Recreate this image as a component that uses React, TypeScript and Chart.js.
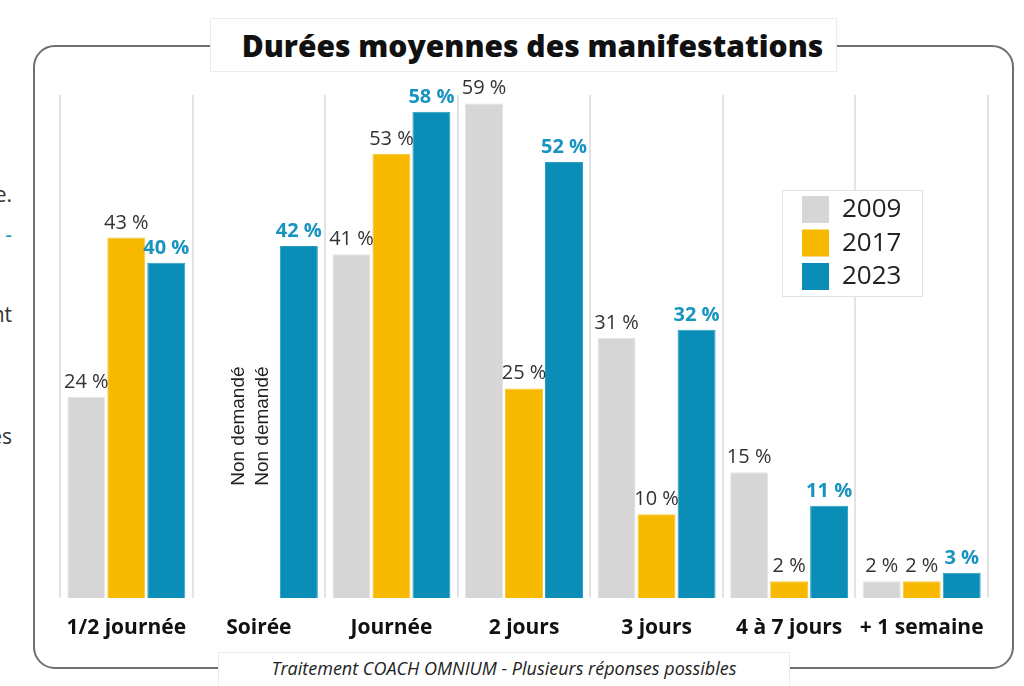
import React, { useEffect, useRef } from "react";
import { Chart, registerables } from "chart.js";

Chart.register(...registerables);

const categories = ["1/2 journée", "Soirée", "Journée", "2 jours", "3 jours", "4 à 7 jours", "+ 1 semaine"];
const series2009 = [24, null, 41, 59, 31, 15, 2];
const series2017 = [43, null, 53, 25, 10, 2, 2];
const series2023 = [40, 42, 58, 52, 32, 11, 3];
const seriesNames = ["2009", "2017", "2023"];
const notAskedText = "Non demandé";
const titleText = "Durées moyennes des manifestations";
const footerText = "Traitement COACH OMNIUM - Plusieurs réponses possibles";

const COLORS = ["#d6d6d6", "#f6b900", "#0a8db6"];
const BORDERS = ["#e4e4e4", "#f8c630", "#2a9cc0"];

const valueLabels = {
  id: "valueLabels",
  afterDatasetsDraw(chart: any) {
    const ctx = chart.ctx;
    ctx.save();
    chart.data.datasets.forEach((ds: any, di: number) => {
      const meta = chart.getDatasetMeta(di);
      meta.data.forEach((bar: any, i: number) => {
        const v = ds.data[i];
        if (v === null || v === undefined) return;
        const bold = di === 2;
        ctx.font = (bold ? "bold 20px " : "20px ") + "'Open Sans', sans-serif";
        ctx.fillStyle = bold ? "#1794c0" : "#333333";
        ctx.textAlign = "center";
        ctx.textBaseline = "alphabetic";
        ctx.fillText(v + " %", bar.x, bar.y - 9);
      });
    });
    // "Non demandé" for missing series
    const xs = chart.scales.x;
    categories.forEach((c, i) => {
      if (series2009[i] === null && series2017[i] === null) {
        const cx = xs.getPixelForValue(i);
        const y0 = chart.scales.y.getPixelForValue(20.5);
        ctx.save();
        ctx.font = "19px 'Liberation Sans', Arial, sans-serif";
        ctx.fillStyle = "#222";
        ctx.textAlign = "center";
        ctx.textBaseline = "middle";
        [cx - 20, cx + 4].forEach((x) => {
          ctx.save();
          ctx.translate(x, y0);
          ctx.rotate(-Math.PI / 2);
          ctx.fillText(notAskedText, 0, 0);
          ctx.restore();
        });
        ctx.restore();
      }
    });
    ctx.restore();
  },
};

const legendBox = {
  id: "legendBox",
  afterDraw(chart: any) {
    const ctx = chart.ctx;
    ctx.save();
    const bx = 782, by = 190, bw = 140, bh = 106;
    ctx.fillStyle = "#ffffff";
    ctx.fillRect(bx, by, bw, bh);
    ctx.strokeStyle = "#e2e2e2";
    ctx.lineWidth = 1;
    ctx.strokeRect(bx + 0.5, by + 0.5, bw, bh);
    chart.data.datasets.forEach((ds: any, i: number) => {
      const cy = 209 + i * 33.5;
      ctx.fillStyle = ds.backgroundColor;
      ctx.fillRect(802, cy - 13, 27, 27);
      ctx.fillStyle = "#222";
      ctx.font = "26px 'Open Sans', sans-serif";
      ctx.textAlign = "left";
      ctx.textBaseline = "middle";
      ctx.fillText(ds.label, 842, cy + 1);
    });
    ctx.restore();
  },
};

export default function App() {
  const ref = useRef<HTMLCanvasElement | null>(null);
  useEffect(() => {
    const data = [series2009, series2017, series2023];
    const chart = new Chart(ref.current as HTMLCanvasElement, {
      type: "bar",
      data: {
        labels: categories,
        datasets: seriesNames.map((n, i) => ({
          label: n,
          data: data[i] as any,
          backgroundColor: COLORS[i],
          borderColor: BORDERS[i],
          borderWidth: 1,
          categoryPercentage: 0.905,
          barPercentage: 0.95,
        })),
      },
      options: {
        animation: false,
        responsive: false,
        maintainAspectRatio: false,
        layout: { padding: { left: 60, right: 36, top: 95, bottom: 0 } },
        plugins: {
          legend: { display: false },
          tooltip: { enabled: false },
          title: { display: false },
        },
        scales: {
          y: {
            display: false,
            min: 0,
            max: 60,
          },
          x: {
            afterFit(scale: any) {
              scale.height = 88;
            },
            grid: {
              offset: true,
              color: "#e3e3e3",
              lineWidth: 2,
              drawTicks: false,
            },
            border: { display: false },
            ticks: {
              padding: 17,
              color: "#111",
              font: { family: "'Open Sans', sans-serif", size: 21, weight: "bold" },
            },
          },
        },
      },
      plugins: [valueLabels, legendBox],
    });
    return () => chart.destroy();
  }, []);

  const frag = (t: string, top: number, color = "#333") => (
    <div
      style={{
        position: "absolute",
        right: 1012,
        top,
        fontFamily: "'Open Sans', sans-serif",
        fontSize: 21,
        color,
        whiteSpace: "nowrap",
        lineHeight: "24px",
      }}
    >
      {t}
    </div>
  );

  return (
    <div style={{ position: "fixed", left: 0, top: 0, width: 1024, height: 686, background: "#fff", overflow: "hidden" }}>
      <div style={{ position: "absolute", left: -30, top: 0, width: 42, height: 686, overflow: "hidden" }}>
        <div style={{ position: "absolute", left: 0, top: 0, width: 1054, height: 686 }}>
          {frag("le.", 182)}
          {frag("-", 222, "#1794c0")}
          {frag("nt", 302)}
          {frag("les", 424)}
        </div>
      </div>
      <div
        style={{
          position: "absolute",
          left: 33,
          top: 45,
          width: 977,
          height: 620,
          border: "2.5px solid #6f6f6f",
          borderRadius: 22,
        }}
      />
      <canvas ref={ref} width={1024} height={686} style={{ position: "absolute", left: 0, top: 0 }} />
      <div
        style={{
          position: "absolute",
          left: 210,
          top: 18,
          width: 627,
          height: 54,
          background: "#fff",
          border: "1px solid #ececec",
          boxSizing: "border-box",
          display: "flex",
          alignItems: "center",
          justifyContent: "center",
          fontFamily: "'Open Sans', sans-serif",
          fontWeight: 800,
          fontSize: 30,
          color: "#111",
          paddingLeft: 18,
          whiteSpace: "nowrap",
        }}
      >
        {titleText}
      </div>
      <div
        style={{
          position: "absolute",
          left: 218,
          top: 652,
          width: 572,
          height: 40,
          background: "#fff",
          border: "1px solid #ececec",
          boxSizing: "border-box",
          fontFamily: "'Open Sans', sans-serif",
          fontStyle: "italic",
          fontSize: 18,
          color: "#222",
          textAlign: "center",
          paddingTop: 3,
          whiteSpace: "nowrap",
        }}
      >
        {footerText}
      </div>
    </div>
  );
}
